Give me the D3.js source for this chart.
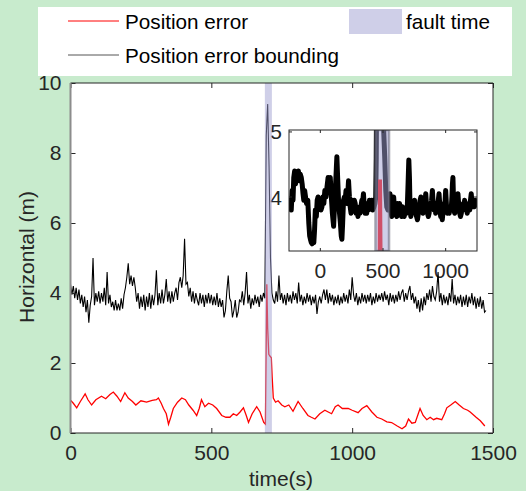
<!DOCTYPE html>
<html lang="en">
<head>
    <meta charset="UTF-8">
    <title>Horizontal position error</title>
    <style>
        body { margin: 0; background: #c8ebcd; }
        svg { display: block; font-family: "Liberation Sans", Arial, sans-serif; }
        .tick text { fill: #262626; font-size: 21px; }
    </style>
</head>
<body>
    <div id="chart"></div>

    <script src="https://d3js.org/d3.v7.min.js"></script>

    <script>
        // horizontal position error bounding, one sample every 5 s starting at t = 0
        var boundStep = 5;
        var boundValues = [
            4.25,3.95,4.2,3.85,4.15,3.8,4.1,3.7,3.95,3.6,
            3.9,3.45,3.8,3.15,3.65,3.9,5.0,3.65,4.0,3.75,
            4.05,3.7,4.0,3.75,4.15,3.65,4.6,3.7,3.95,3.6,
            3.75,3.5,3.8,3.5,3.7,3.5,3.85,3.55,3.95,4.15,
            4.45,4.85,4.25,4.5,4.2,4.45,4.15,3.75,4.0,3.55,
            3.9,3.6,3.95,3.5,3.9,3.6,4.0,3.55,3.95,3.65,
            3.95,4.65,3.65,4.0,3.7,4.1,3.7,3.95,4.4,3.75,
            4.05,3.7,4.05,3.75,4.0,4.15,3.8,4.3,4.45,4.15,
            4.5,5.55,4.25,4.3,3.9,4.15,3.75,4.05,3.7,4.0,
            3.8,3.65,4.0,3.7,3.95,3.6,3.95,3.7,4.0,3.7,
            3.95,3.65,3.9,3.65,4.0,3.6,3.85,3.6,3.8,3.3,
            3.5,4.05,4.5,3.85,3.75,3.3,3.5,3.8,3.3,3.45,
            3.8,3.75,4.05,3.65,4.0,4.6,3.7,3.95,3.55,3.85,
            3.65,3.95,3.7,3.9,3.6,3.95,3.75,4.0,3.85,8.5,
            9.4,7.6,5.0,4.0,3.8,3.7,4.05,3.75,4.5,3.8,
            4.0,3.7,3.95,3.65,4.0,3.75,3.95,3.7,4.05,3.8,
            4.0,3.7,4.3,3.75,3.95,3.65,3.9,3.7,4.0,3.75,
            3.95,3.65,3.9,3.7,3.95,3.4,3.75,3.9,3.7,3.95,
            4.1,3.8,4.1,3.7,4.0,3.75,3.95,3.65,3.9,3.7,
            3.95,3.65,3.9,3.7,4.0,3.75,3.95,3.7,4.1,3.8,
            4.45,3.95,3.75,4.0,3.65,3.9,3.7,4.0,3.75,3.95,
            3.7,3.95,3.75,4.0,3.65,3.9,3.7,4.0,3.75,3.95,
            3.8,4.0,3.75,4.05,3.8,3.95,3.65,4.0,3.75,3.95,
            3.7,3.95,3.75,4.05,3.8,4.0,4.1,3.75,4.0,3.8,
            4.05,4.2,3.8,4.0,3.7,3.9,3.55,3.8,3.45,3.85,
            3.5,3.9,3.65,4.0,3.8,4.1,3.75,4.2,3.9,3.8,
            4.05,4.6,3.75,4.0,3.65,3.95,3.7,3.9,3.65,4.0,
            3.75,4.4,3.7,3.95,3.65,3.9,3.7,3.95,3.6,3.9,
            3.65,3.95,3.6,3.9,3.7,4.0,3.65,3.9,3.55,3.85,
            3.6,3.9,3.55,3.8,3.45,3.5
        ];

        // position error: time (s) and value (m)
        var errorTimes = [0,10,22,35,52,62,75,90,110,125,140,152,165,178,193,205,220,232,250,270,
            290,305,312,322,330,340,348,356,365,380,395,408,420,435,448,457,465,477,490,505,
            519,537,552,566,578,590,602,614,624,632,645,661,673,686,692,697,700,704,708,713,
            716,720,728,737,750,761,775,790,808,825,843,855,868,885,903,915,927,940,950,965,
            986,1000,1021,1035,1052,1070,1088,1105,1123,1140,1160,1177,1190,1200,1212,1224,1241,1252,1265,1277,
            1289,1300,1318,1328,1336,1350,1366,1380,1395,1410,1419,1440,1455,1471];
        var errorValues = [0.94,0.85,0.72,0.9,1.12,0.95,0.8,0.95,1.05,0.98,1.1,1.17,1.05,0.9,1.15,1.0,0.9,0.8,0.92,0.88,
            0.93,0.95,1.0,0.85,0.7,0.55,0.25,0.45,0.7,0.88,1.0,0.95,0.8,0.65,0.5,0.7,0.95,0.75,0.85,0.8,
            0.7,0.5,0.45,0.45,0.55,0.5,0.6,0.72,0.5,0.3,0.55,0.75,0.6,0.3,0.25,4.25,3.0,2.25,2.2,2.15,
            1.6,1.0,0.88,0.92,0.8,0.75,0.8,0.62,0.9,0.7,0.5,0.45,0.4,0.55,0.65,0.6,0.55,0.75,0.8,0.7,
            0.7,0.65,0.58,0.7,0.78,0.6,0.45,0.4,0.32,0.3,0.2,0.12,0.2,0.4,0.28,0.3,0.7,0.5,0.38,0.45,
            0.38,0.42,0.38,0.55,0.72,0.8,0.9,0.8,0.7,0.65,0.6,0.45,0.35,0.2];

        var faultStart = 690, faultEnd = 715;

        // inset: bounding (time, value) and position error spike
        var insetBound = [[-245,3.9],[-238,3.95],[-232,3.8],[-225,4.1],[-218,3.95],[-212,4.3],[-205,4.4],[-198,4.2],[-190,4.35],[-182,4.3],
            [-175,4.4],[-168,4.25],[-160,4.35],[-152,4.3],[-145,4.2],[-138,4.05],[-132,3.95],[-125,4.1],[-118,4.0],[-110,3.9],
            [-100,3.95],[-92,3.6],[-85,3.4],[-79,3.35],[-72,3.3],[-66,3.28],[-60,3.35],[-52,3.3],[-46,3.5],[-40,3.8],
            [-32,3.7],[-25,3.95],[-18,4.0],[-10,3.85],[-3,3.95],[5,3.8],[13,3.85],[20,4.0],[28,3.9],[36,4.1],
            [45,4.0],[53,4.15],[62,4.3],[70,4.15],[79,4.3],[88,4.0],[96,3.75],[106,3.55],[114,3.9],[122,4.2],
            [128,4.45],[132,4.62],[138,4.3],[146,3.9],[153,3.75],[160,3.6],[167,3.4],[172,3.35],[178,3.6],[185,3.95],
            [192,4.0],[198,3.95],[205,4.1],[212,3.9],[219,4.05],[225,4.25],[232,4.0],[238,3.85],[245,3.75],[251,3.8],
            [258,3.95],[265,3.85],[271,3.95],[278,3.9],[285,3.75],[292,3.85],[300,3.7],[307,3.8],[317,3.75],[324,3.85],
            [331,3.95],[337,3.9],[344,4.05],[350,3.85],[357,3.75],[363,3.8],[370,3.75],[378,3.9],[385,3.8],[392,3.95],
            [400,3.85],[410,3.95],[418,3.8],[428,3.85],[436,3.9],[442,4.0],[446,4.6],[449,5.6],[498,5.6],[506,5.0],
            [514,4.6],[522,4.1],[530,3.85],[540,3.8],[548,3.85],[556,4.05],[562,3.8],[570,3.7],[578,3.85],[585,4.0],
            [592,3.8],[600,3.75],[610,3.7],[617,3.9],[625,3.8],[632,3.9],[640,3.75],[648,3.7],[656,3.85],[663,3.75],
            [669,3.7],[678,3.8],[686,3.75],[693,3.8],[700,4.2],[706,4.57],[711,4.3],[716,3.8],[722,3.7],[730,3.85],
            [738,3.9],[745,3.8],[752,3.95],[760,3.75],[768,3.7],[775,3.65],[782,3.75],[790,3.85],[796,3.95],[802,4.0],
            [810,3.8],[818,3.75],[826,3.85],[834,3.9],[841,4.05],[848,3.85],[855,3.75],[862,3.7],[868,3.75],[875,3.9],
            [882,3.85],[888,3.95],[894,4.1],[900,3.9],[907,3.8],[914,3.85],[920,3.75],[927,3.9],[934,3.85],[941,3.95],
            [947,4.05],[954,3.85],[960,3.7],[967,3.75],[973,3.65],[980,3.8],[987,3.9],[993,3.85],[1000,4.1],[1007,3.85],
            [1014,3.75],[1020,3.8],[1028,3.75],[1036,3.85],[1044,3.8],[1050,4.0],[1054,4.2],[1058,4.3],[1062,4.0],[1066,3.8],
            [1072,3.75],[1078,3.85],[1085,3.8],[1092,3.9],[1098,4.05],[1105,3.85],[1112,3.75],[1118,3.7],[1125,3.75],[1132,3.85],
            [1140,3.9],[1147,3.85],[1151,3.95],[1158,3.8],[1165,3.85],[1172,3.75],[1178,3.85],[1185,3.9],[1192,3.8],[1198,3.95],
            [1204,4.05],[1210,3.9],[1217,3.85],[1224,3.95],[1230,3.85],[1236,3.95],[1243,3.9]];
        var insetError = [[440,0.8],[470,0.9],[476,4.27],[484,2.2],[520,1.0]];
        var insetFaultStart = 440, insetFaultEnd = 548;

        var xTicks = [0, 500, 1000, 1500];
        var yTicks = [0, 2, 4, 6, 8, 10];
        var insetXTicks = [0, 500, 1000];
        var insetYTicks = [4, 5];

        var W = 526, H = 491;
        var svg = d3.select("#chart").append("svg").attr("width", W).attr("height", H);

        var x = d3.scaleLinear().domain([0, 1500]).range([70.5, 493]);
        var y = d3.scaleLinear().domain([0, 10]).range([433, 83]);

        var bandFill = "rgb(160,160,210)";
        var axisColor = "#262626";
        var fmt = d3.format("d");

        // plot area
        svg.append("rect").attr("x", 70.5).attr("y", 83).attr("width", 422.5).attr("height", 350).attr("fill", "#fff");

        svg.append("clipPath").attr("id", "mainClip").append("rect")
            .attr("x", 70.5).attr("y", 83).attr("width", 422.5).attr("height", 350);

        // inset tick labels sit under the main curves
        var xi = d3.scaleLinear().domain([-250, 1250]).range([289, 477]);
        var yi = d3.scaleLinear().domain([3.17, 5.03]).range([251, 130]);
        var insetLabels = svg.append("g").attr("class", "tick");
        insetLabels.selectAll("text.ix").data(insetXTicks).enter().append("text")
            .attr("class", "ix")
            .attr("x", function(d) { return xi(d); }).attr("y", 278)
            .attr("text-anchor", "middle").text(fmt);
        insetLabels.selectAll("text.iy").data(insetYTicks).enter().append("text")
            .attr("class", "iy")
            .attr("x", 282).attr("y", function(d) { return yi(d) + 7.5; })
            .attr("text-anchor", "end").text(fmt);

        var plot = svg.append("g").attr("clip-path", "url(#mainClip)");

        var boundLine = d3.line()
            .x(function(d, i) { return x(i * boundStep); })
            .y(function(d) { return y(d); });
        plot.append("path").datum(boundValues)
            .attr("d", boundLine).attr("fill", "none")
            .attr("stroke", "#000").attr("stroke-width", 1.1);

        var errorLine = d3.line()
            .x(function(d, i) { return x(errorTimes[i]); })
            .y(function(d) { return y(d); });
        plot.append("path").datum(errorValues)
            .attr("d", errorLine).attr("fill", "none")
            .attr("stroke", "#ff0000").attr("stroke-width", 1.3);

        // fault time band (semi-transparent, on top)
        plot.append("rect")
            .attr("x", x(faultStart)).attr("y", 83)
            .attr("width", x(faultEnd) - x(faultStart)).attr("height", 350)
            .attr("fill", bandFill).attr("fill-opacity", 0.5);

        // axes (inside ticks)
        var gx = svg.append("g").attr("transform", "translate(0,433)")
            .call(d3.axisBottom(x).tickValues(xTicks).tickSize(-5).tickSizeOuter(0).tickPadding(12).tickFormat(fmt));
        var gy = svg.append("g").attr("transform", "translate(70.5,0)")
            .call(d3.axisLeft(y).tickValues(yTicks).tickSize(-5).tickSizeOuter(0).tickPadding(9).tickFormat(fmt));
        var gt = svg.append("g").attr("transform", "translate(0,83)")
            .call(d3.axisTop(x).tickValues(xTicks).tickSize(-5).tickSizeOuter(0).tickFormat(""));
        var gr = svg.append("g").attr("transform", "translate(493,0)")
            .call(d3.axisRight(y).tickValues(yTicks).tickSize(-5).tickSizeOuter(0).tickFormat(""));
        [gx, gy, gt, gr].forEach(function(g) {
            g.select(".domain").remove();
            g.selectAll("line").attr("stroke", axisColor);
            g.attr("font-family", null).attr("font-size", null);
        });

        svg.append("path")
            .attr("d", "M70.5,83H493V433H70.5")
            .attr("fill", "none").attr("stroke", axisColor).attr("stroke-width", 1);
        svg.append("line").attr("x1", 70.5).attr("x2", 70.5).attr("y1", 83).attr("y2", 433)
            .attr("stroke", "#8c8c8c").attr("stroke-width", 2);

        svg.append("text").attr("x", 281).attr("y", 486).attr("text-anchor", "middle")
            .attr("font-size", 21).attr("fill", axisColor).text("time(s)");
        svg.append("text").attr("transform", "translate(34,257) rotate(-90)").attr("text-anchor", "middle")
            .attr("font-size", 21).attr("fill", axisColor).text("Horizontal (m)");

        // inset
        var inset = svg.append("g");
        inset.append("rect").attr("x", 289).attr("y", 130).attr("width", 188).attr("height", 121).attr("fill", "#fff");
        svg.append("clipPath").attr("id", "insetClip").append("rect")
            .attr("x", 289).attr("y", 130).attr("width", 188).attr("height", 121);
        var insetPlot = inset.append("g").attr("clip-path", "url(#insetClip)");

        var insetLine = d3.line()
            .x(function(d) { return xi(d[0]); })
            .y(function(d) { return yi(d[1]); });
        insetPlot.append("path").datum(insetBound)
            .attr("d", insetLine).attr("fill", "none")
            .attr("stroke", "#000").attr("stroke-width", 5).attr("stroke-linejoin", "round");
        insetPlot.append("path").datum(insetError)
            .attr("d", insetLine).attr("fill", "none")
            .attr("stroke", "#ff0000").attr("stroke-width", 4);
        insetPlot.append("rect")
            .attr("x", xi(insetFaultStart)).attr("y", 130)
            .attr("width", xi(insetFaultEnd) - xi(insetFaultStart)).attr("height", 121)
            .attr("fill", bandFill).attr("fill-opacity", 0.5)
            .attr("stroke", "#6e6e80").attr("stroke-opacity", 0.6).attr("stroke-width", 2.5);

        var insetTickLen = 3;
        insetXTicks.forEach(function(t) {
            inset.append("line").attr("x1", xi(t)).attr("x2", xi(t)).attr("y1", 130).attr("y2", 130 + insetTickLen).attr("stroke", axisColor);
            inset.append("line").attr("x1", xi(t)).attr("x2", xi(t)).attr("y1", 251).attr("y2", 251 - insetTickLen).attr("stroke", axisColor);
        });
        insetYTicks.forEach(function(v) {
            inset.append("line").attr("x1", 289).attr("x2", 289 + insetTickLen).attr("y1", yi(v)).attr("y2", yi(v)).attr("stroke", axisColor);
            inset.append("line").attr("x1", 477).attr("x2", 477 - insetTickLen).attr("y1", yi(v)).attr("y2", yi(v)).attr("stroke", axisColor);
        });
        inset.append("rect").attr("x", 289).attr("y", 130).attr("width", 188).attr("height", 121)
            .attr("fill", "none").attr("stroke", axisColor).attr("stroke-width", 1);

        // legend
        var legendFont = 20.7;
        var legend = svg.append("g");
        legend.append("rect").attr("x", 38).attr("y", 7).attr("width", 474).attr("height", 69).attr("fill", "#fff");
        legend.append("line").attr("x1", 68).attr("x2", 119).attr("y1", 21).attr("y2", 21)
            .attr("stroke", "#ff0000").attr("stroke-width", 1);
        legend.append("text").attr("x", 125).attr("y", 28.5).attr("font-size", legendFont).attr("fill", "#000").text("Position error");
        legend.append("line").attr("x1", 68).attr("x2", 119).attr("y1", 55).attr("y2", 55)
            .attr("stroke", "#555").attr("stroke-width", 1);
        legend.append("text").attr("x", 125).attr("y", 62.5).attr("font-size", legendFont).attr("fill", "#000").text("Position error bounding");
        legend.append("rect").attr("x", 349).attr("y", 9).attr("width", 53).attr("height", 25)
            .attr("fill", bandFill).attr("fill-opacity", 0.5);
        legend.append("text").attr("x", 406).attr("y", 28.5).attr("font-size", legendFont).attr("fill", "#000").text("fault time");
    </script>
</body>
</html>
